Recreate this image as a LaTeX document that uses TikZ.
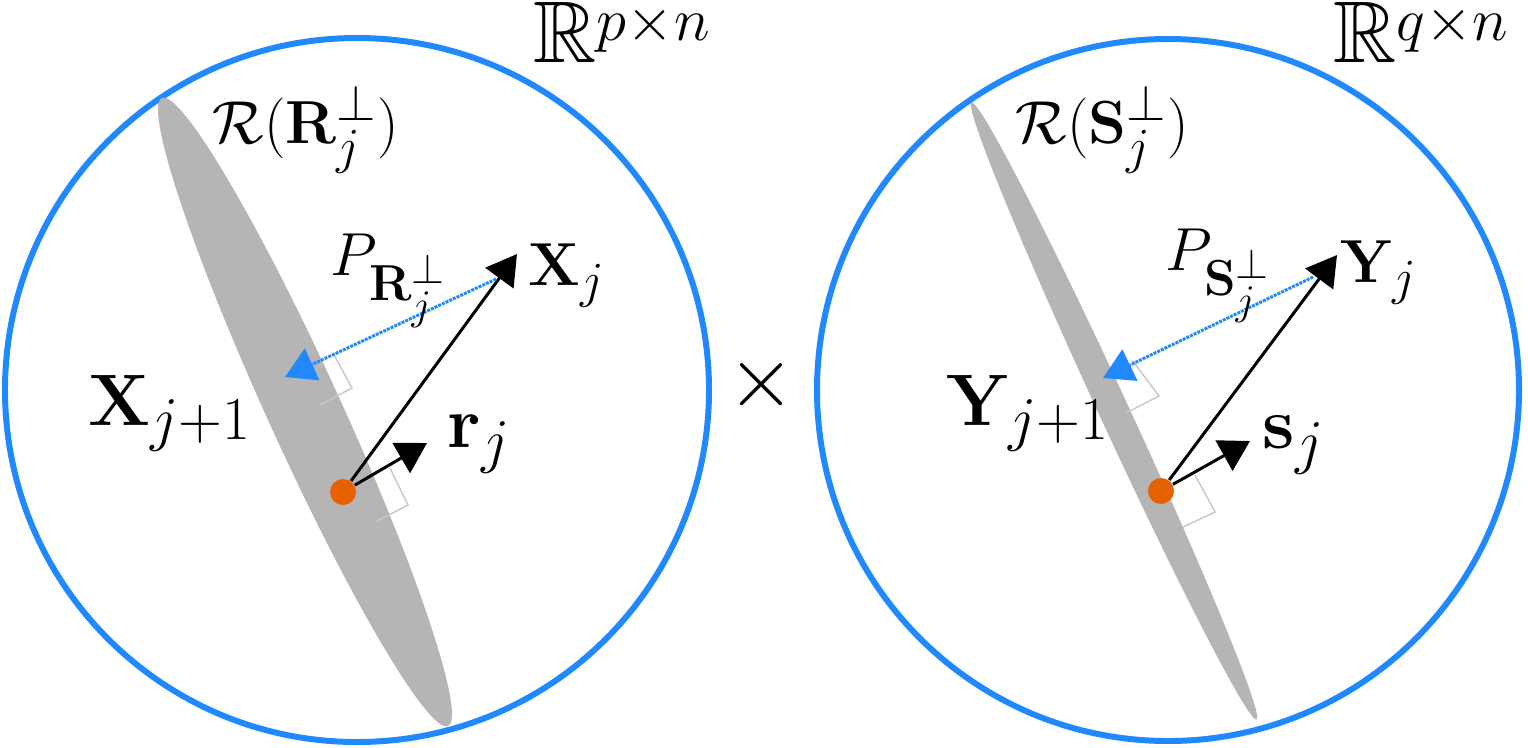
\documentclass[tikz,border=0pt]{standalone}
\usepackage{amsmath}
\usepackage{amssymb}
\usetikzlibrary{arrows.meta}
\usetikzlibrary{calc}
\DeclareMathSizes{17.28}{17.28}{14.4}{12}
\DeclareMathSizes{19.5}{19.5}{16.2}{13}
\DeclareMathSizes{24.88}{24.88}{19}{14.4}
\definecolor{spaceblue}{RGB}{33,137,255}
\definecolor{subgray}{RGB}{181,181,181}
\definecolor{ptorange}{RGB}{230,97,0}
\newcommand{\lowsup}[1]{^{\raisebox{-3.5pt}{$\scriptstyle #1$}}}
\tikzset{>={Triangle[length=8.5pt,width=9.8pt]}}
\tikzset{space/.style={draw=spaceblue, line width=1.7pt}}
\tikzset{subsp/.style={fill=subgray}}
\tikzset{vec/.style={->, line width=0.85pt}}
\tikzset{proj/.style={->, draw=spaceblue, line width=0.85pt, dash pattern=on 0.85pt off 0.3pt}}
\tikzset{rangle/.style={draw=black!22, line width=0.4pt}}
\tikzset{pt/.style={circle, fill=ptorange, minimum size=0.26cm, inner sep=0pt}}
\tikzset{lbl/.style={anchor=base west, inner sep=0pt, font=\LARGE}}
\tikzset{biglbl/.style={lbl, font=\fontsize{19.5}{22}\selectfont}}

\begin{document}
\begin{tikzpicture}[x=0.01cm, y=0.01cm]
\useasboundingbox (0,0) rectangle (1528,747);

\draw[space] (357,357) circle (352);
\draw[space] (1168,357) circle (351);

\fill[subsp, rotate around={-65.5:(305,335)}] (305,335) ellipse [x radius=345, y radius=37];
\fill[subsp, rotate around={-65.2:(1114,336)}] (1114,336) ellipse [x radius=340, y radius=15];

\draw[rangle] (333,394) -- (352,359) -- (320,342);
\draw[rangle] (390,279) -- (408,242) -- (375,225);
\draw[rangle] (1132,387) -- (1159,351) -- (1126,334);
\draw[rangle] (1195,272) -- (1215,235) -- (1183,220);

\node[pt] (x0) at (343,255) {};
\coordinate (xj) at (517,493);
\coordinate (xjb) at (496,468);
\coordinate (xp) at (285,370);
\coordinate (rj) at (427,304);

\node[pt] (y0) at (1161,256) {};
\coordinate (yj) at (1337,492);
\coordinate (yjb) at (1313,470);
\coordinate (yp) at (1103,369);
\coordinate (sj) at (1250,306);

\draw[vec] (x0) -- (xj);
\draw[vec] (x0) -- (rj);
\draw[proj] (xjb) -- (xp);

\draw[vec] (y0) -- (yj);
\draw[vec] (y0) -- (sj);
\draw[proj] (yjb) -- (yp);

\node[lbl, font=\Huge] (Rp) at (533,685) {$\mathbb{R}\lowsup{p\times n}$};
\node[lbl, font=\Huge] (Rq) at (1333,685) {$\mathbb{R}\lowsup{q\times n}$};
\node[lbl] (rangeR) at (212,604) {$\mathcal{R}(\mathbf{R}_j^{\perp})$};
\node[lbl] (rangeS) at (1015,604) {$\mathcal{R}(\mathbf{S}_j^{\perp})$};
\node[lbl] (PR) at (330,472) {$P_{\mathbf{R}_j^{\perp}}$};
\node[lbl] (PS) at (1165,477) {$P_{\mathbf{S}_j^{\perp}}$};
\node[lbl] (Xj) at (528,462) {$\mathbf{X}_j$};
\node[lbl] (Yj) at (1340,465) {$\mathbf{Y}_j$};
\node[biglbl] (Xj1) at (88,322) {$\mathbf{X}_{j+1}$};
\node[biglbl] (Yj1) at (946,322) {$\mathbf{Y}_{j+1}$};
\node[biglbl] (rjl) at (447,300) {$\mathbf{r}_j$};
\node[biglbl] (sjl) at (1262,299) {$\mathbf{s}_j$};
\node[font=\Huge] (prod) at (762,362) {$\times$};
\end{tikzpicture}
\end{document}
